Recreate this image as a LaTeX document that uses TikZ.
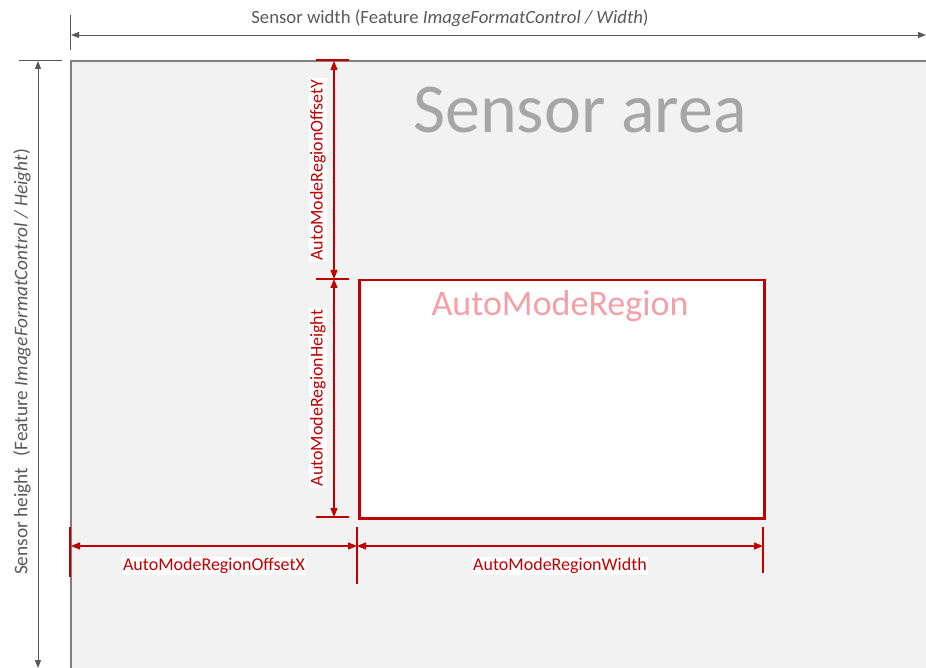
\documentclass[tikz,border=0pt]{standalone}
\usepackage{fontspec}
\setmainfont{Carlito}
\usetikzlibrary{arrows.meta}
\definecolor{dred}{HTML}{C00000}
\definecolor{sgray}{HTML}{7F7F7F}
\definecolor{agray}{HTML}{595959}
\definecolor{sfill}{HTML}{F2F2F2}
\definecolor{pinktext}{HTML}{F4A0A8}
\definecolor{bigtext}{HTML}{A6A6A6}
\tikzset{
  dimline/.style={draw=dred, line width=1.2pt, {Triangle[length=9pt,width=7pt]}-{Triangle[length=9pt,width=7pt]}},
  dtick/.style={draw=dred, line width=1.2pt},
  sline/.style={draw=agray, line width=0.9pt, {Triangle[length=8pt,width=6pt]}-{Triangle[length=8pt,width=6pt]}},
  stick/.style={draw=agray, line width=0.9pt},
  dlabel/.style={fill=white, text=dred, inner sep=1.5pt, font=\fontsize{18}{21}\selectfont},
  slabel/.style={text=agray, inner sep=0pt, font=\fontsize{18.7}{22}\selectfont},
}
\begin{document}
\begin{tikzpicture}[x=1pt,y=-1pt]
\useasboundingbox (0,0) rectangle (926,668);
\clip (0,0) rectangle (926,668);
% sensor area
\node[draw=sgray, line width=2.2pt, fill=sfill, anchor=north west, minimum width=900pt, minimum height=660pt, inner sep=0pt] (sensor) at (70,60) {};
\node[text=bigtext, font=\fontsize{70}{80}\selectfont, inner sep=0pt] (sarea) at (580,110) {Sensor area};
% region
\node[draw=dred, line width=2.5pt, fill=white, anchor=north west, minimum width=405pt, minimum height=238pt, inner sep=0pt] (region) at (358,279) {};
\node[text=pinktext, font=\fontsize{36}{40}\selectfont, inner sep=0pt] (rlabel) at (560,306) {AutoModeRegion};
% sensor width
\coordinate (swL) at (71,35);
\coordinate (swR) at (926,35);
\coordinate (swT1) at (70,15);
\coordinate (swT2) at (70,50);
\draw[stick] (swT1) -- (swT2);
\draw[sline] (swL) -- (swR);
\node[slabel] (swlabel) at (450,18) {Sensor width (Feature \textit{ImageFormatControl / Width})};
% sensor height
\coordinate (shT) at (38,61);
\coordinate (shB) at (38,668);
\coordinate (shK1) at (19,60);
\coordinate (shK2) at (62,60);
\draw[stick] (shK1) -- (shK2);
\draw[sline] (shT) -- (shB);
\node[slabel, rotate=90, font=\fontsize{19.3}{22}\selectfont] (shlabel) at (22,362) {Sensor height\hspace{0.6em}(Feature \textit{ImageFormatControl / Height})};
% offset Y / height ticks
\coordinate (t1a) at (316,60);  \coordinate (t1b) at (349,60);
\coordinate (t2a) at (316,279); \coordinate (t2b) at (349,279);
\coordinate (t3a) at (316,517); \coordinate (t3b) at (349,517);
\draw[dtick] (t1a) -- (t1b);
\draw[dtick] (t2a) -- (t2b);
\draw[dtick] (t3a) -- (t3b);
\coordinate (oyT) at (334,61);
\coordinate (oyB) at (334,279);
\coordinate (hB) at (334,517);
\draw[dimline] (oyT) -- (oyB);
\draw[dimline] (oyB) -- (hB);
\node[dlabel, rotate=90] (oylabel) at (318,170) {AutoModeRegionOffsetY};
\node[dlabel, rotate=90] (hlabel) at (318,398) {AutoModeRegionHeight};
% offset X / width ticks
\coordinate (v1a) at (70,527);  \coordinate (v1b) at (70,577);
\coordinate (v2a) at (357,527); \coordinate (v2b) at (357,584);
\coordinate (v3a) at (763,527); \coordinate (v3b) at (763,573);
\draw[dtick] (v1a) -- (v1b);
\draw[dtick] (v2a) -- (v2b);
\draw[dtick] (v3a) -- (v3b);
\coordinate (oxL) at (71,546);
\coordinate (oxR) at (357,546);
\coordinate (wR) at (763,546);
\draw[dimline] (oxL) -- (oxR);
\draw[dimline] (oxR) -- (wR);
\node[dlabel] (oxlabel) at (214,566) {AutoModeRegionOffsetX};
\node[dlabel] (wlabel) at (560,566) {AutoModeRegionWidth};
\end{tikzpicture}
\end{document}
